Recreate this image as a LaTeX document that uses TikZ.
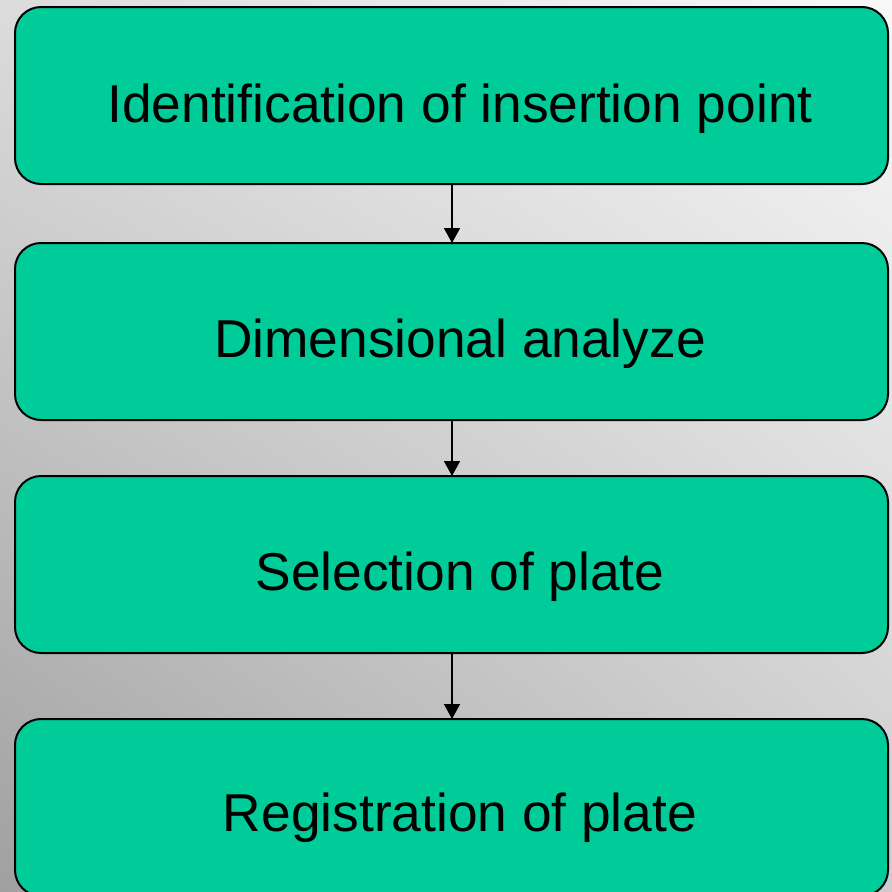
\documentclass[tikz,border=0pt]{standalone}
\usepackage{fontspec}
\setmainfont{Liberation Sans}
\usetikzlibrary{arrows.meta,shadings}
\definecolor{boxgreen}{HTML}{00CC99}
\definecolor{bgll}{HTML}{A0A0A0}
\definecolor{bgul}{HTML}{DCDCDC}
\definecolor{bgur}{HTML}{F8F8F8}
\definecolor{bglr}{HTML}{CCCCCC}
\tikzset{
  stepbox/.style={draw=black, line width=2pt, fill=boxgreen, rounded corners=26pt},
  steptext/.style={font=\fontsize{53.3}{58}\selectfont, text=black, inner sep=0pt, anchor=base},
  flowarrow/.style={draw=black, line width=1.5pt, -{Triangle[width=16pt,length=15pt]}}
}
\begin{document}
\begin{tikzpicture}[x=1pt,y=-1pt]
\useasboundingbox (0,0) rectangle (892,892);
\clip (0,0) rectangle (892,892);
\shade[lower left=bgll, upper left=bgul, upper right=bgur, lower right=bglr] (0,892) rectangle (892,0);
% boxes
\draw[stepbox] (15,7) rectangle (888,184);
\draw[stepbox] (15,243) rectangle (888,420);
\draw[stepbox] (15,476) rectangle (888,653);
\draw[stepbox] (15,719) rectangle (888,896);
\coordinate (b1) at (452,184); \coordinate (t2) at (452,243);
\coordinate (b2) at (452,420); \coordinate (t3) at (452,476);
\coordinate (b3) at (452,653); \coordinate (t4) at (452,719);
\node[steptext] (n1) at (460,122) {Identification of insertion point};
\node[steptext] (n2) at (460,357) {Dimensional analyze};
\node[steptext] (n3) at (460,590) {Selection of plate};
\node[steptext] (n4) at (460,831) {Registration of plate};
\draw[flowarrow] (b1) -- (t2);
\draw[flowarrow] (b2) -- (t3);
\draw[flowarrow] (b3) -- (t4);
\end{tikzpicture}
\end{document}
